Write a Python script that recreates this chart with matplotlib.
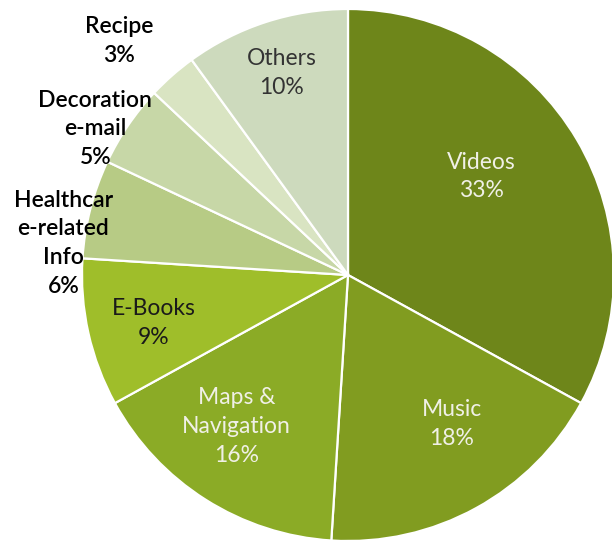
"""Smartphone app usage share - pie chart."""

import matplotlib.pyplot as plt

categories = ["Videos", "Music", "Maps &\nNavigation", "E-Books",
              "Healthcar\ne-related\nInfo", "Decoration\ne-mail", "Recipe", "Others"]
shares = [33, 18, 16, 9, 6, 5, 3, 10]
colors = ["#6e861a", "#819c20", "#8bab26", "#9fbe2a",
          "#b7cb85", "#c7d7a7", "#d9e4c2", "#cddabd"]
text_colors = ["#f0f0e6", "#f0f0e6", "#f0f0e6", "#1a1a1a",
               "#000000", "#000000", "#000000", "#333333"]
bold = [False, False, False, False, True, True, True, False]

# label centres, in units of the pie radius
label_pos = [(0.50, 0.37), (0.39, -0.56), (-0.42, -0.57), (-0.73, -0.18),
             (-1.07, 0.12), (-0.95, 0.55), (-0.86, 0.88), (-0.25, 0.76)]

W, H = 612, 544
cx, cy, r = 348, 275, 266

fig = plt.figure(figsize=(W / 100, H / 100), dpi=100)
ax = fig.add_axes([0, 0, 1, 1])

ax.pie(shares, colors=colors, startangle=90, counterclock=False,
       wedgeprops={"edgecolor": "white", "linewidth": 1.6})

ax.set_xlim(-cx / r, (W - cx) / r)
ax.set_ylim(-(H - cy) / r, cy / r)
ax.set_aspect("equal")
ax.axis("off")

for name, val, (x, y), tc, b in zip(categories, shares, label_pos, text_colors, bold):
    ax.text(x, y, f"{name}\n{val}%", ha="center", va="center",
            color=tc, fontsize=16.5, family="Lato",
            fontweight="semibold" if b else "normal", linespacing=1.45)

fig.savefig("out.png", dpi=100)
